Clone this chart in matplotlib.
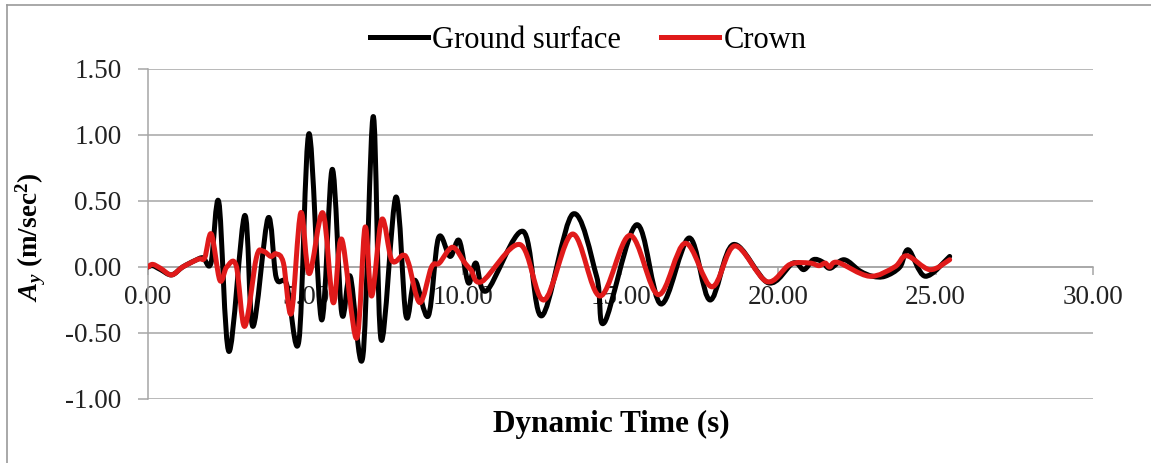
import numpy as np
import matplotlib
matplotlib.use('Agg')
import matplotlib.pyplot as plt
from matplotlib.path import Path
from matplotlib.patches import PathPatch
from matplotlib.lines import Line2D

# values (time s, acceleration m/s2)
ground_t = [0.00, 0.15, 0.40, 0.75, 1.10, 1.50, 1.75, 2.00, 2.25, 2.57, 3.07, 3.33, 3.81, 4.07,
            4.40, 4.79, 5.11, 5.51, 5.85, 6.15, 6.42, 6.82, 7.15, 7.40, 7.87, 8.19, 8.47, 8.90,
            9.22, 9.59, 9.88, 10.17, 10.41, 10.75, 11.91, 12.50, 13.48, 14.24, 14.49, 15.51,
            16.28, 17.18, 17.84, 18.58, 19.69, 20.48, 20.82, 21.12, 21.40, 21.65, 22.10, 22.60,
            23.00, 23.40, 23.87, 24.14, 24.67, 25.45]
ground_a = [0.00, 0.01, -0.02, -0.06, 0.00, 0.05, 0.07, 0.03, 0.49, -0.64, 0.39, -0.45, 0.37, -0.08,
            -0.13, -0.56, 1.01, -0.40, 0.74, -0.35, -0.07, -0.68, 1.14, -0.55, 0.53, -0.37, -0.10, -0.37,
            0.22, 0.08, 0.20, -0.12, 0.03, -0.18, 0.27, -0.37, 0.40, -0.07, -0.42, 0.32,
            -0.28, 0.22, -0.25, 0.17, -0.12, 0.03, -0.02, 0.055, 0.04, -0.01, 0.055, -0.03,
            -0.07, -0.07, 0.00, 0.13, -0.07, 0.08]

crown_t = [0.00, 0.15, 0.40, 0.75, 1.10, 1.60, 1.80, 2.01, 2.28, 2.50, 2.80, 3.07, 3.44, 3.65,
           3.90, 4.07, 4.30, 4.55, 4.85, 5.12, 5.55, 5.88, 6.15, 6.62, 6.89, 7.10, 7.42, 7.74,
           8.10, 8.27, 8.63, 9.00, 9.25, 9.67, 10.06, 10.25, 10.60, 11.81, 12.57, 13.48, 14.35,
           15.30, 16.20, 17.05, 17.90, 18.63, 19.64, 20.38, 21.00, 21.30, 21.50, 21.64, 21.90,
           22.90, 23.70, 24.09, 24.82, 25.45]
crown_a = [0.00, 0.02, -0.01, -0.06, 0.00, 0.06, 0.07, 0.25, -0.10, 0.00, 0.01, -0.45, 0.07, 0.12,
           0.08, 0.10, 0.03, -0.35, 0.41, -0.05, 0.41, -0.27, 0.21, -0.54, 0.30, -0.22, 0.36, 0.05,
           0.09, 0.03, -0.27, 0.00, 0.03, 0.15, 0.03, -0.02, -0.11, 0.17, -0.25, 0.25, -0.22,
           0.24, -0.21, 0.18, -0.15, 0.16, -0.11, 0.02, 0.03, 0.01, 0.03, 0.00, 0.035,
           -0.07, 0.00, 0.085, -0.02, 0.055]

x_ticks = [0, 5, 10, 15, 20, 25, 30]
y_ticks = [-1.0, -0.5, 0.0, 0.5, 1.0, 1.5]

SERIF = 'Liberation Serif'
GRID = '#a6a6a6'
RED = '#e01a1a'
LW = 3.6


def smooth_path(t, a):
    # Excel-style smoothed line: cubic bezier through every point
    p = np.column_stack([t, a])
    verts = [p[0]]
    codes = [Path.MOVETO]
    n = len(p)
    for i in range(n - 1):
        p0 = p[max(i - 1, 0)]
        p1 = p[i]
        p2 = p[i + 1]
        p3 = p[min(i + 2, n - 1)]
        c1 = p1 + (p2 - p0) / 6.0
        c2 = p2 - (p3 - p1) / 6.0
        verts += [c1, c2, p2]
        codes += [Path.CURVE4] * 3
    return Path(verts, codes)


plt.rcParams['font.family'] = [SERIF, 'DejaVu Serif']
plt.rcParams['mathtext.fontset'] = 'custom'
plt.rcParams['mathtext.it'] = 'Liberation Serif:italic:bold'
plt.rcParams['mathtext.rm'] = 'Liberation Serif:bold'
plt.rcParams['mathtext.bf'] = 'Liberation Serif:bold'

fig = plt.figure(figsize=(11.51, 4.63), dpi=100)
ax = fig.add_axes([148 / 1151, 1 - 399 / 463, (1093 - 148) / 1151, (399 - 69) / 463])

ax.set_xlim(0, 30)
ax.set_ylim(-1.0, 1.5)
ax.set_xticks(x_ticks)
ax.set_yticks(y_ticks)
ax.set_xticklabels([f'{v:.2f}' for v in x_ticks])
ax.set_yticklabels([f'{v:.2f}' for v in y_ticks])

ax.grid(axis='y', color=GRID, lw=1.1)
ax.set_axisbelow(True)
for s in ['top', 'right']:
    ax.spines[s].set_visible(False)
ax.spines['left'].set_color(GRID)
ax.spines['left'].set_linewidth(1.1)
ax.spines['bottom'].set_position(('data', 0))
ax.spines['bottom'].set_color(GRID)
ax.spines['bottom'].set_linewidth(1.1)

ax.tick_params(axis='y', direction='out', length=7, width=1.1, color=GRID, pad=12,
               labelsize=19.5, labelcolor='#222222')
ax.tick_params(axis='x', direction='out', length=6, width=1.1, color=GRID, pad=7,
               labelsize=19.5, labelcolor='#222222')

ax.add_patch(PathPatch(smooth_path(ground_t, ground_a), facecolor='none', edgecolor='black',
                       lw=LW, transform=ax.transData, zorder=3, capstyle='round', joinstyle='round'))
ax.add_patch(PathPatch(smooth_path(crown_t, crown_a), facecolor='none', edgecolor=RED,
                       lw=LW, transform=ax.transData, zorder=4, capstyle='round', joinstyle='round'))

handles = [Line2D([], [], color='black', lw=LW), Line2D([], [], color=RED, lw=LW)]
fig.legend(handles, ['Ground surface', 'Crown'], loc='center', ncol=2,
           bbox_to_anchor=(588 / 1151, 1 - 40 / 463), frameon=False, fontsize=22,
           handlelength=1.9, handletextpad=0.15, columnspacing=1.3)

fig.text(31 / 1151, 1 - 237 / 463, r'$\mathit{A}_\mathit{y}$ (m/sec$^\mathbf{2}$)',
         rotation=90, ha='center', va='center', fontsize=19.5, fontweight='bold')
fig.text(611 / 1151, 1 - 424 / 463, 'Dynamic Time (s)', ha='center', va='center',
         fontsize=22.5, fontweight='bold')

# chart-area border (only left and top edges are visible in the reference)
fig.add_artist(Line2D([7 / 1151, 7 / 1151], [0, 1 - 5 / 463], color='#9a9a9a', lw=1.2,
                      transform=fig.transFigure))
fig.add_artist(Line2D([7 / 1151, 1], [1 - 5 / 463, 1 - 5 / 463], color='#9a9a9a', lw=1.2,
                      transform=fig.transFigure))

fig.savefig('out.png', dpi=100)
